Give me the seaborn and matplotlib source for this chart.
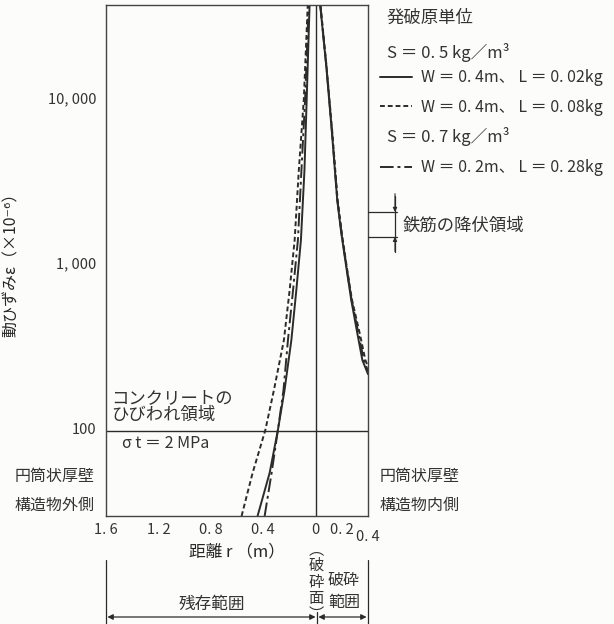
import matplotlib
matplotlib.use("Agg")
import matplotlib.pyplot as plt
import matplotlib.transforms as mtrans
import seaborn as sns
import numpy as np
from matplotlib.lines import Line2D
from matplotlib.ticker import FixedLocator, LogLocator, NullFormatter

# ---------------- data ----------------
# left side (residual range), r plotted as negative distance
STRAIN_L = [29.3, 53.4, 97, 170, 341, 686, 1377, 3660, 9800, 36600]
R_L_SOLID = [-0.443, -0.351, -0.288, -0.237, -0.185, -0.147, -0.112, -0.085, -0.068, -0.046]
R_L_DASH = [-0.565, -0.481, -0.384, -0.318, -0.242, -0.198, -0.160, -0.128, -0.090, -0.060]
R_L_DASHDOT = [-0.389, -0.336, -0.288, -0.245, -0.211, -0.172, -0.135, -0.108, -0.080, -0.053]
# right side (fractured range)
STRAIN_R_SOLID = [36600, 15400, 6130, 2410, 1520, 946, 597, 377, 258, 212]
R_R_SOLID = [0.035, 0.082, 0.125, 0.165, 0.196, 0.234, 0.272, 0.318, 0.357, 0.40]
STRAIN_R_DASH = [36600, 15400, 6130, 2410, 1520, 946, 597, 377, 258, 235]
R_R_DASH = [0.037, 0.084, 0.128, 0.168, 0.200, 0.238, 0.278, 0.336, 0.380, 0.40]
STRAIN_R_DASHDOT = [36600, 15400, 6130, 2410, 1520, 946, 597, 377, 258, 222]
R_R_DASHDOT = [0.036, 0.083, 0.126, 0.166, 0.198, 0.236, 0.275, 0.326, 0.368, 0.40]

CRACK_STRAIN = 96          # sigma_t = 2 MPa
YIELD_LO, YIELD_HI = 1440, 2040

X_TICKS = [-1.6, -1.2, -0.8, -0.4, 0.0, 0.2, 0.4]
X_TICK_LABELS = ["1. 6", "1. 2", "0. 8", "0. 4", "0", "0. 2", ""]
X_MINOR = [-1.4, -1.0, -0.6, -0.2, 0.1, 0.3]
Y_TICKS = [100, 1000, 10000]
Y_TICK_LABELS = ["100", "1, 000", "10, 000"]

LEGEND_LABELS = ["W ＝ 0. 4m、 L ＝ 0. 02kg",
                 "W ＝ 0. 4m、 L ＝ 0. 08kg",
                 "W ＝ 0. 2m、 L ＝ 0. 28kg"]

# ---------------- style ----------------
sns.set_theme(style="white")
plt.rcParams["font.family"] = ["Noto Sans CJK JP", "DejaVu Sans"]
INK = "#2b2b2b"
TXT = "#333333"
BG = "#fcfcfb"
plt.rcParams["text.color"] = TXT

W, H = 614, 624
fig = plt.figure(figsize=(W / 100, H / 100), dpi=100, facecolor=BG)
fx = lambda px: px / W
fy = lambda py: 1 - py / H

ax = fig.add_axes([fx(106), fy(516), (368 - 106) / W, (516 - 5) / H])
ax.set_facecolor(BG)

SOLID = "-"
DASH = (0, (2.5, 1.5))
DASHDOT = (0, (7, 2, 1.5, 2))
LW = 1.4

def curve(r, s, ls):
    sns.lineplot(x=r, y=s, ax=ax, color=INK, lw=LW, linestyle=ls,
                 sort=False, estimator=None)
    return ax.lines[-1]

h_solid = curve(R_L_SOLID, STRAIN_L, SOLID)
h_dash = curve(R_L_DASH, STRAIN_L, DASH)
h_dd = curve(R_L_DASHDOT, STRAIN_L, DASHDOT)
curve(R_R_SOLID, STRAIN_R_SOLID, SOLID)
curve(R_R_DASH, STRAIN_R_DASH, DASH)
curve(R_R_DASHDOT, STRAIN_R_DASHDOT, DASHDOT)

ax.set_yscale("log")
ax.set_xlim(-1.6, 0.4)
ax.set_ylim(29.3, 36600)

ax.axhline(CRACK_STRAIN, color=INK, lw=1.0)
ax.axvline(0, color=INK, lw=1.0)

for sp in ax.spines.values():
    sp.set_color("#444444")
    sp.set_linewidth(1.0)

ax.xaxis.set_major_locator(FixedLocator(X_TICKS))
ax.set_xticklabels(X_TICK_LABELS)
ax.xaxis.set_minor_locator(FixedLocator(X_MINOR))
ax.yaxis.set_major_locator(FixedLocator(Y_TICKS))
ax.set_yticklabels(Y_TICK_LABELS)
ax.yaxis.set_minor_locator(LogLocator(base=10, subs=np.arange(2, 10)))
ax.yaxis.set_minor_formatter(NullFormatter())
ax.tick_params(axis="x", which="both", direction="in", length=3, width=0.8,
               colors="#444444", labelcolor=TXT, labelsize=10.5, pad=5)
ax.tick_params(axis="y", which="major", direction="out", length=4, width=0.8,
               colors="#444444", labelcolor=TXT, labelsize=10.5, pad=3)
ax.tick_params(axis="y", which="minor", direction="out", length=2.5, width=0.7,
               colors="#444444")
xb = mtrans.blended_transform_factory(ax.transData, fig.transFigure)
ax.text(0.4, fy(537), "0. 4", transform=xb, ha="center", va="center", fontsize=10.5)

ax.set_xlabel("距離 r （m）", fontsize=12, labelpad=5)
ax.set_ylabel("動ひずみε（×10⁻⁶）", fontsize=11.5)
ax.yaxis.set_label_coords((20 - 106) / 262, 0.5)

# texts inside the axes
fig.text(fx(111), fy(398), "コンクリートの", ha="left", va="center", fontsize=12.5)
fig.text(fx(111), fy(415), "ひびわれ領域", ha="left", va="center", fontsize=12.5)
fig.text(fx(122), fy(443), "σ t ＝ 2 MPa", ha="left", va="center", fontsize=11.5)

# side texts
fig.text(fx(15), fy(477), "円筒状厚壁", ha="left", va="center", fontsize=11.5)
fig.text(fx(15), fy(505), "構造物外側", ha="left", va="center", fontsize=11.5)
fig.text(fx(380), fy(477), "円筒状厚壁", ha="left", va="center", fontsize=11.5)
fig.text(fx(380), fy(505), "構造物内側", ha="left", va="center", fontsize=11.5)

# legend block
fig.text(fx(386), fy(18), "発破原単位", ha="left", va="center", fontsize=12.5)
fig.text(fx(387), fy(52), "S ＝ 0. 5 kg／m³", ha="left", va="center", fontsize=12)
fig.text(fx(387), fy(137), "S ＝ 0. 7 kg／m³", ha="left", va="center", fontsize=12)
for h, lab, py in ((h_solid, LEGEND_LABELS[0], 78),
                   (h_dash, LEGEND_LABELS[1], 107),
                   (h_dd, LEGEND_LABELS[2], 168)):
    fig.legend(handles=[h], labels=[lab], loc="center left",
               bbox_to_anchor=(fx(380), fy(py)), frameon=False,
               borderpad=0, borderaxespad=0, handlelength=2.0,
               handletextpad=0.55, fontsize=11.5)

# yield band of rebar
yb = mtrans.blended_transform_factory(fig.transFigure, ax.transData)
for v in (YIELD_LO, YIELD_HI):
    fig.add_artist(Line2D([fx(368), fx(397)], [v, v], transform=yb,
                          color=INK, lw=0.9))
fig.add_artist(Line2D([fx(395), fx(395)], [fy(196), fy(252)],
                      transform=fig.transFigure, color=INK, lw=0.9))
ax.annotate("", xy=(fx(395), YIELD_HI), xytext=(fx(395), 10 ** 3.42),
            xycoords=yb, textcoords=yb,
            arrowprops=dict(arrowstyle="-|>", color=INK, lw=0.8,
                            mutation_scale=6, shrinkA=0, shrinkB=0))
ax.annotate("", xy=(fx(395), YIELD_LO), xytext=(fx(395), 10 ** 3.07),
            xycoords=yb, textcoords=yb,
            arrowprops=dict(arrowstyle="-|>", color=INK, lw=0.8,
                            mutation_scale=6, shrinkA=0, shrinkB=0))
fig.text(fx(403), fy(226), "鉄筋の降伏領域", ha="left", va="center", fontsize=12.5)

# bottom range brackets
for px, top in ((106, 560), (368, 560), (317, 612)):
    fig.add_artist(Line2D([fx(px), fx(px)], [fy(top), fy(624)],
                          transform=fig.transFigure, color=INK, lw=0.9))
for a, b in ((106, 317), (317, 368)):
    ax.annotate("", xy=(fx(b), fy(617)), xytext=(fx(a), fy(617)),
                xycoords="figure fraction", textcoords="figure fraction",
                arrowprops=dict(arrowstyle="<|-|>", color=INK, lw=0.9,
                                mutation_scale=8, shrinkA=1, shrinkB=1))
fig.text(fx(212), fy(604), "残存範囲", ha="center", va="center", fontsize=12)
fig.text(fx(344), fy(580), "破砕", ha="center", va="center", fontsize=11.5)
fig.text(fx(344), fy(603), "範囲", ha="center", va="center", fontsize=11.5)
fig.text(fx(316), fy(582), "︵\n破\n砕\n面\n︶", ha="center", va="center",
         fontsize=11, linespacing=0.95)

fig.savefig("out.png", dpi=100, facecolor=BG)
